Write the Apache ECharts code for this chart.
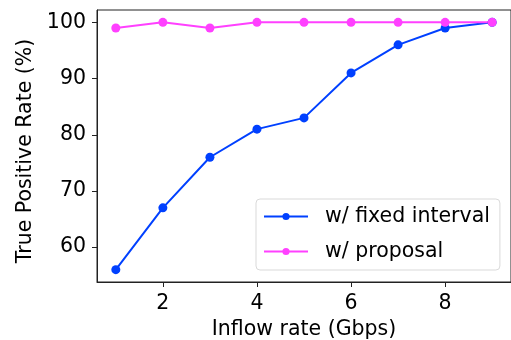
<!DOCTYPE html>
<html>
<head>
<meta charset="utf-8">
<script src="https://cdn.jsdelivr.net/npm/echarts@6/dist/echarts.min.js"></script>
<style>
html,body{margin:0;padding:0;background:#fff;}
#main{width:511px;height:340px;}
</style>
</head>
<body>
<div id="main"></div>
<script>
var myChart = echarts.init(document.getElementById("main"));

// inflow rate (Gbps)
var rates = [1, 2, 3, 4, 5, 6, 7, 8, 9];
// true positive rate (%)
var fixedInterval = [56, 67, 76, 81, 83, 91, 96, 99, 100];
var proposal = [99, 100, 99, 100, 100, 100, 100, 100, 100];
var xTicks = [2, 4, 6, 8];
var yTicks = [60, 70, 80, 90, 100];

function pairs(xs, ys){
	var out = [];
	for(var i=0;i<xs.length;i++){
		out.push([xs[i], ys[i]]);
	}
	return out;
}

var font = 'DejaVu Sans';
var fs = 20.5;

var options = {
	animation: false,
	textStyle: { fontFamily: font },
	grid: {
		left: 97,
		right: 0,
		top: 10,
		bottom: 58,
		outerBoundsMode: 'none',
		show: true,
		borderColor: '#222',
		borderWidth: 1
	},
	legend: {
		orient: 'vertical',
		left: 256,
		top: 199,
		padding: [7, 10, 8, 7],
		itemGap: 14,
		itemWidth: 44,
		itemHeight: 9,
		borderColor: '#d9d9d9',
		borderWidth: 1,
		borderRadius: 4,
		backgroundColor: 'rgba(255,255,255,0.8)',
		textStyle: {
			fontFamily: font,
			fontSize: fs,
			color: '#000',
			padding: [0, 0, 0, 12]
		},
		data: ['w/ fixed interval', 'w/ proposal']
	},
	xAxis: {
		type: 'value',
		min: 0.6,
		max: 9.4,
		name: 'Inflow rate (Gbps)',
		nameLocation: 'middle',
		nameGap: 37,
		nameTextStyle: { fontSize: fs, color: '#000', fontFamily: font },
		splitLine: { show: false },
		axisLine: { show: true, onZero: false, lineStyle: { color: '#222', width: 1 } },
		axisTick: { show: true, length: 5, lineStyle: { color: '#222' }, customValues: xTicks },
		axisLabel: { fontSize: fs, color: '#000', margin: 11, customValues: xTicks }
	},
	yAxis: {
		type: 'value',
		min: 53.8,
		max: 102.2,
		name: 'True Positive Rate (%)',
		nameLocation: 'middle',
		nameGap: 60,
		nameTextStyle: { fontSize: fs, color: '#000', fontFamily: font, padding: [0, 10, 0, 0] },
		splitLine: { show: false },
		axisLine: { show: true, onZero: false, lineStyle: { color: '#222', width: 1 } },
		axisTick: { show: true, length: 5, lineStyle: { color: '#222' }, customValues: yTicks },
		axisLabel: { fontSize: fs, color: '#000', margin: 11, customValues: yTicks }
	},
	series: [{
		name: 'w/ fixed interval',
		type: 'line',
		symbol: 'circle',
		symbolSize: 9,
		itemStyle: { color: '#0040ff' },
		lineStyle: { color: '#0040ff', width: 2 },
		data: pairs(rates, fixedInterval)
	}, {
		name: 'w/ proposal',
		type: 'line',
		symbol: 'circle',
		symbolSize: 9,
		itemStyle: { color: '#ff40ff' },
		lineStyle: { color: '#ff40ff', width: 2 },
		data: pairs(rates, proposal)
	}]
};
myChart.setOption(options);
</script>
</body>
</html>
